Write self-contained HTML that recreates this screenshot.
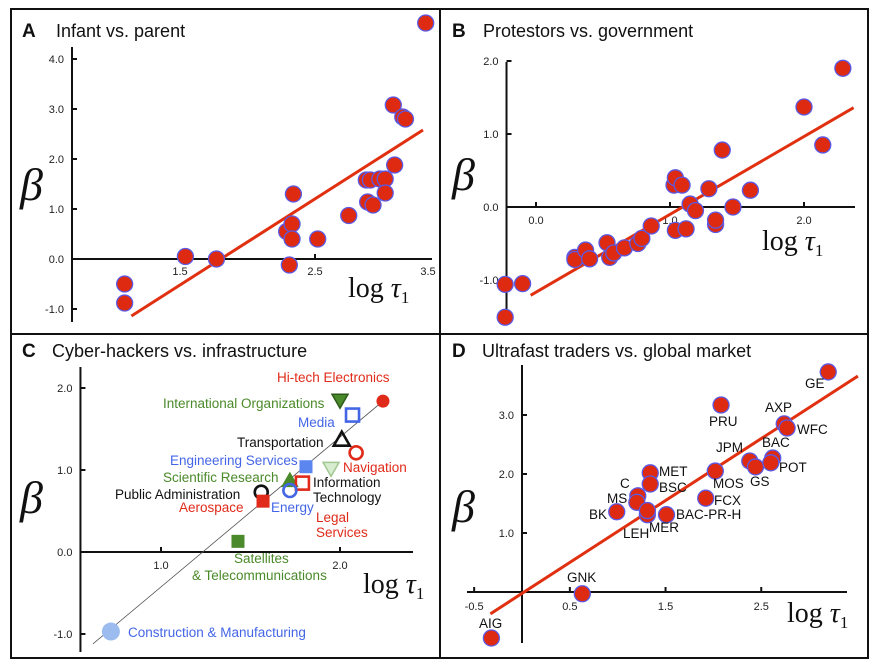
<!DOCTYPE html>
<html><head><meta charset="utf-8"><style>
body{margin:0;background:#fff}
svg{display:block}
text{font-family:"Liberation Sans",sans-serif}
.tk{font-size:11px;fill:#222}
.ttl{font-size:18px;fill:#111}
.lt{font-size:19px;font-weight:bold;fill:#111}
.beta{font-family:"Liberation Serif",serif;font-style:italic;font-size:46px;fill:#111}
.logt{font-family:"Liberation Serif",serif;font-size:28px;fill:#111}
.lab{font-size:13.5px}
</style></head><body>
<svg id="fig" width="883" height="670" viewBox="0 0 883 670" xmlns="http://www.w3.org/2000/svg">
<rect x="0" y="0" width="883" height="670" fill="#fff"/>
<g fill="none" stroke="#111" stroke-width="2">
<rect x="11" y="9" width="857" height="649"/>
<line x1="440" y1="9" x2="440" y2="658"/>
<line x1="11" y1="334" x2="868" y2="334"/>
</g>
<g id="layer"></g>
</svg>
<script>
// Panel A data
const aX=[1.09,1.09,1.54,1.77,2.31,2.29,2.33,2.33,2.34,2.52,2.75,2.88,2.91,2.89,2.93,2.98,3.02,3.02,3.09,3.08,3.15,3.17,3.32];
const aY=[-0.5,-0.88,0.05,0,-0.12,0.55,0.7,0.4,1.3,0.4,0.87,1.58,1.58,1.14,1.08,1.6,1.6,1.32,1.88,3.08,2.84,2.8,4.72];
const aFit=[[1.14,-1.14],[3.3,2.58]];
const aXTicks=["1.5","2.5","3.5"];
const aYTicks=["4.0","3.0","2.0","1.0","0.0","-1.0"];
// Panel B data
const bX=[-0.23,-0.10,-0.23,0.29,0.29,0.37,0.40,0.53,0.55,0.58,0.66,0.76,0.79,0.86,1.03,1.04,1.09,1.04,1.12,1.15,1.19,1.29,1.34,1.34,1.39,1.47,1.60,2.0,2.14,2.29];
const bY=[-1.06,-1.05,-1.51,-0.69,-0.72,-0.59,-0.71,-0.49,-0.69,-0.63,-0.56,-0.50,-0.43,-0.26,0.30,0.40,0.30,-0.32,-0.30,0.04,-0.05,0.25,-0.24,-0.18,0.78,0.0,0.23,1.37,0.85,1.90];
const bFit=[[-0.04,-1.21],[2.37,1.36]];
const bXTicks=["0.0","1.0","2.0"];
const bYTicks=["2.0","1.0","0.0","-1.0"];
// Panel C data
const cNames=["Hi-tech Electronics","International Organizations","Media","Transportation","Navigation","Engineering Services","Information Technology","Scientific Research","Legal Services","Energy","Public Administration","Aerospace","Satellites & Telecommunications","Construction & Manufacturing"];
const cX=[2.24,2.0,2.07,2.01,2.09,1.81,1.95,1.72,1.79,1.72,1.56,1.57,1.43,0.72];
const cY=[1.84,1.85,1.67,1.37,1.21,1.04,1.02,0.87,0.84,0.75,0.73,0.62,0.13,-0.97];
const cFit=[[0.62,-1.12],[2.24,1.84]];
const cXTicks=["1.0","2.0"];
const cYTicks=["2.0","1.0","0.0","-1.0"];
// Panel D data
const dNames=["GE","PRU","AXP","WFC","BAC","POT","JPM","GS","MOS","FCX","MET","BSC","C","MS","BK","LEH","MER","BAC-PR-H","GNK","AIG"];
const dX=[3.20,2.08,2.74,2.77,2.62,2.60,2.38,2.44,2.02,1.92,1.34,1.34,1.21,1.20,0.99,1.31,1.31,1.51,0.63,-0.32];
const dY=[3.73,3.17,2.85,2.78,2.27,2.19,2.22,2.12,2.05,1.59,2.02,1.83,1.63,1.52,1.36,1.31,1.38,1.31,-0.03,-0.78];
const dFit=[[-0.33,-0.37],[3.51,3.66]];
const dXTicks=["-0.5","0.5","1.5","2.5"];
const dYTicks=["3.0","2.0","1.0"];

const NS="http://www.w3.org/2000/svg";
const layer=document.getElementById('layer');
function mk(tag,attrs,parent,txt){const e=document.createElementNS(NS,tag);for(const k in attrs)e.setAttribute(k,attrs[k]);if(txt!==undefined)e.textContent=txt;(parent||layer).appendChild(e);return e;}
function scale(d0,d1,p0,p1){return v=>p0+(v-d0)*(p1-p0)/(d1-d0);}

function axes(g,sx,sy,xr,yr,xo,yo,xt,yt,xlOff){
  const xa=mk('line',{x1:xr[0],y1:sy(yo),x2:xr[1],y2:sy(yo),stroke:'#111','stroke-width':2},g);
  
  const ya=mk('line',{x1:sx(xo),y1:yr[0],x2:sx(xo),y2:yr[1],stroke:'#111','stroke-width':2},g);
  
  xt.forEach(t=>{const v=parseFloat(t);const px=Math.min(sx(v),xr[1]-4);
    if(sx(v)<=xr[1]) mk('line',{x1:px,y1:sy(yo),x2:px,y2:sy(yo)-5,stroke:'#111','stroke-width':2},g);
    const e=mk('text',{x:px,y:sy(yo)+(xlOff||17),'text-anchor':'middle',class:'tk'},g,t);
    });
  yt.forEach(t=>{const v=parseFloat(t);
    mk('line',{x1:sx(xo),y1:sy(v),x2:sx(xo)+5,y2:sy(v),stroke:'#111','stroke-width':2},g);
    const e=mk('text',{x:sx(xo)-8,y:sy(v)+4,'text-anchor':'end',class:'tk'},g,t);
    });
}
function fit(g,sx,sy,f,col,w){const e=mk('line',{x1:sx(f[0][0]),y1:sy(f[0][1]),x2:sx(f[1][0]),y2:sy(f[1][1]),stroke:col,'stroke-width':w},g);
  }
function dots(g,sx,sy,X,Y){X.forEach((x,i)=>{const c=mk('circle',{cx:sx(x),cy:sy(Y[i]),r:8,fill:'#dd2a10',stroke:'#5a5ae6','stroke-width':1.3},g);
  });}
function titles(g,lx,ly,letter,tx,title,bx,by,ltx,lty){
  let e=mk('text',{x:lx,y:ly,class:'lt'},g,letter);
  e=mk('text',{x:tx,y:ly,class:'ttl'},g,title);
  e=mk('text',{x:bx,y:by,class:'beta'},g,'β');
  e=mk('text',{x:ltx,y:lty,class:'logt'},g);
  mk('tspan',{},e,'log ');mk('tspan',{'font-style':'italic'},e,'τ');mk('tspan',{'font-size':'17','dy':'6'},e,'1');
}

// Panel A
(function(){const g=mk('g',{});
 const sx=scale(1.5,2.5,180,315),sy=scale(0,1,259,209);
 titles(g,22,37,'A',56,'Infant vs. parent',20,200,348,297);
 axes(g,sx,sy,[72,432],[47,322],0.7,0,aXTicks,aYTicks,16);
 fit(g,sx,sy,aFit,'#e03010',3);dots(g,sx,sy,aX,aY);})();
// Panel B
(function(){const g=mk('g',{});
 const sx=scale(0,1,536,670),sy=scale(0,1,207,134);
 titles(g,452,37,'B',483,'Protestors vs. government',452,190,762,250);
 axes(g,sx,sy,[506,855],[62,322],-0.22,0,bXTicks,bYTicks,17);
 fit(g,sx,sy,bFit,'#e03010',3);dots(g,sx,sy,bX,bY);})();
// Panel C
(function(){const g=mk('g',{});
 const sx=scale(1,2,161,340),sy=scale(0,1,552,470);
 titles(g,22,357,'C',52,'Cyber-hackers vs. infrastructure',20,513,363,593);
 axes(g,sx,sy,[80,413],[367,652],0.55,0,cXTicks,cYTicks,17);
 fit(g,sx,sy,cFit,'#555',0.8);
 const R='#e02a1a',G='#4a8a2a',B='#4466e6',K='#111';
 const mks=[['circ',R,1],['dtri',G,1],['sq',B,0],['tri',K,0],['circ',R,0],['sq','#5b86f0',1],['dtri','#a0c890',0,'#d8ecd0'],['tri',G,1],['sq',R,0],['circ',B,0],['circ',K,0],['sq',R,1],['sq',G,1],['circ','#9cbcf0',1]];
 cX.forEach((x,i)=>{const cx=sx(x),cy=sy(cY[i]);const [sh,col,filled,fc]=mks[i];let e;
  const fill=filled?col:(fc||'none');const sw=filled?0:2.6;
  if(sh==='circ'){e=mk('circle',{cx:cx,cy:cy,r:i===13?9:6.5,fill:fill,stroke:col,'stroke-width':sw},g);}
  else if(sh==='sq'){e=mk('rect',{x:cx-6.5,y:cy-6.5,width:13,height:13,fill:fill,stroke:col,'stroke-width':sw},g);}
  else if(sh==='tri'){e=mk('polygon',{points:`${cx},${cy-8} ${cx+8},${cy+6} ${cx-8},${cy+6}`,fill:fill,stroke:col,'stroke-width':sw||1},g);}
  else {e=mk('polygon',{points:`${cx-8},${cy-6} ${cx+8},${cy-6} ${cx},${cy+8}`,fill:fill,stroke:filled?'#2d5a1a':col,'stroke-width':1.5},g);}
  
  });
 const labs=[["Hi-tech Electronics",277,382,R],["International Organizations",163,408,G],["Media",298,427,B],["Transportation",237,447,K],["Navigation",343,472,R],["Engineering Services",170,465,B],["Scientific Research",163,482,G],["Information",313,487,K],["Technology",313,502,K],["Public Administration",115,499,K],["Aerospace",179,512,R],["Energy",271,512,B],["Legal",316,522,R],["Services",316,537,R],["Satellites",234,563,G],["& Telecommunications",192,580,G],["Construction & Manufacturing",128,637,B]];
 labs.forEach(l=>{const e=mk('text',{x:l[1],y:l[2],fill:l[3],class:'lab'},g,l[0]);
  });})();
// Panel D
(function(){const g=mk('g',{});
 const sx=scale(0,1,522,617.7),sy=scale(0,1,592,533);
 titles(g,452,357,'D',482,'Ultrafast traders vs. global market',452,522,787,622);
 axes(g,sx,sy,[467,847],[365,643],0,0,dXTicks,dYTicks,18);
 fit(g,sx,sy,dFit,'#e03010',3);dots(g,sx,sy,dX,dY);
 const pos=[[805,388],[709,426],[765,412],[797,434],[762,447],[779,472],[716,452],[750,486],[713,488],[714,505],[659,476],[659,492],[620,488],[607,503],[589,519],[623,538],[649,532],[676,519],[567,582],[479,628]];
 dNames.forEach((n,i)=>{const e=mk('text',{x:pos[i][0],y:pos[i][1],fill:'#111',class:'lab','font-size':'14'},g,n);
  });})();
</script>
</body></html>
